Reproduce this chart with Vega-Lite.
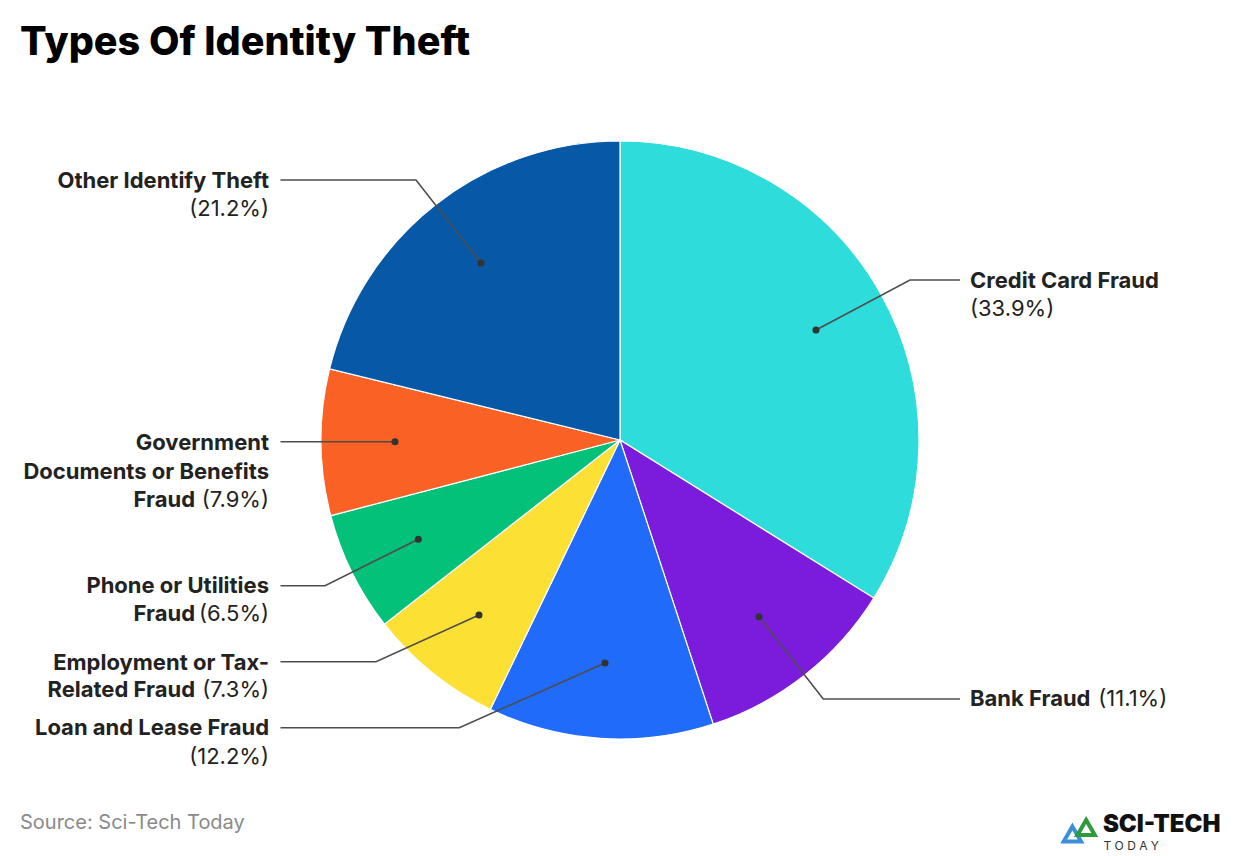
{
  "$schema": "https://vega.github.io/schema/vega-lite/v6.json",
  "width": 1240,
  "height": 856,
  "padding": 0,
  "autosize": {"type": "none"},
  "background": "white",
  "config": {"view": {"stroke": null}, "font": "Inter"},
  "datasets": {
    "slices": [
      {"category": "Credit Card Fraud", "rank": 1, "share": 33.9},
      {"category": "Bank Fraud", "rank": 2, "share": 11.1},
      {"category": "Loan and Lease Fraud", "rank": 3, "share": 12.2},
      {"category": "Employment or Tax-Related Fraud", "rank": 4, "share": 7.3},
      {"category": "Phone or Utilities Fraud", "rank": 5, "share": 6.5},
      {"category": "Government Documents or Benefits Fraud", "rank": 6, "share": 7.9},
      {"category": "Other Identify Theft", "rank": 7, "share": 21.2}
    ],
    "leaders": [
      {"category": "Credit Card Fraud", "pt": 0, "x": 65.55, "y": 36.79},
      {"category": "Credit Card Fraud", "pt": 1, "x": 96.99, "y": 53.51},
      {"category": "Credit Card Fraud", "pt": 2, "x": 113.71, "y": 53.51},
      {"category": "Bank Fraud", "pt": 0, "x": 46.49, "y": -59.10},
      {"category": "Bank Fraud", "pt": 1, "x": 67.99, "y": -86.62},
      {"category": "Bank Fraud", "pt": 2, "x": 113.71, "y": -86.62},
      {"category": "Loan and Lease Fraud", "pt": 0, "x": -5.02, "y": -74.58},
      {"category": "Loan and Lease Fraud", "pt": 1, "x": -53.75, "y": -96.22},
      {"category": "Loan and Lease Fraud", "pt": 2, "x": -113.55, "y": -96.22},
      {"category": "Employment or Tax-Related Fraud", "pt": 0, "x": -47.16, "y": -58.53},
      {"category": "Employment or Tax-Related Fraud", "pt": 1, "x": -81.61, "y": -74.15},
      {"category": "Employment or Tax-Related Fraud", "pt": 2, "x": -113.55, "y": -74.15},
      {"category": "Phone or Utilities Fraud", "pt": 0, "x": -67.46, "y": -33.21},
      {"category": "Phone or Utilities Fraud", "pt": 1, "x": -98.66, "y": -48.73},
      {"category": "Phone or Utilities Fraud", "pt": 2, "x": -113.55, "y": -48.73},
      {"category": "Government Documents or Benefits Fraud", "pt": 0, "x": -75.25, "y": -0.57},
      {"category": "Government Documents or Benefits Fraud", "pt": 2, "x": -113.55, "y": -0.57},
      {"category": "Other Identify Theft", "pt": 0, "x": -46.49, "y": 59.20},
      {"category": "Other Identify Theft", "pt": 1, "x": -68.23, "y": 86.96},
      {"category": "Other Identify Theft", "pt": 2, "x": -113.55, "y": 86.96}
    ],
    "labels": [
      {"side": "L", "part": "name", "text": "Other Identify Theft", "x": -117.39, "y": 86.72},
      {"side": "L", "part": "pct", "text": "(21.2%)", "x": -117.39, "y": 77.26},
      {"side": "L", "part": "name", "text": "Government", "x": -117.39, "y": -1.10},
      {"side": "L", "part": "name", "text": "Documents or Benefits", "x": -117.39, "y": -10.60},
      {"side": "L", "part": "name", "text": "Fraud", "x": -142.14, "y": -20.07},
      {"side": "L", "part": "pct", "text": "(7.9%)", "x": -117.39, "y": -20.07},
      {"side": "L", "part": "name", "text": "Phone or Utilities", "x": -117.39, "y": -48.73},
      {"side": "L", "part": "name", "text": "Fraud", "x": -142.14, "y": -58.29},
      {"side": "L", "part": "pct", "text": "(6.5%)", "x": -117.39, "y": -58.29},
      {"side": "L", "part": "name", "text": "Employment or Tax-", "x": -117.39, "y": -74.48},
      {"side": "L", "part": "name", "text": "Related Fraud", "x": -142.14, "y": -83.61},
      {"side": "L", "part": "pct", "text": "(7.3%)", "x": -117.39, "y": -83.61},
      {"side": "L", "part": "name", "text": "Loan and Lease Fraud", "x": -117.39, "y": -96.39},
      {"side": "L", "part": "pct", "text": "(12.2%)", "x": -117.39, "y": -105.92},
      {"side": "R", "part": "name", "text": "Credit Card Fraud", "x": 117.06, "y": 53.31},
      {"side": "R", "part": "pct", "text": "(33.9%)", "x": 117.06, "y": 43.81},
      {"side": "R", "part": "name", "text": "Bank Fraud", "x": 117.06, "y": -86.62},
      {"side": "R", "part": "pct", "text": "(11.1%)", "x": 159.97, "y": -86.62}
    ],
    "notes": [
      {"kind": "title", "text": "Types Of Identity Theft", "x": -200.67, "y": 128.76},
      {"kind": "source", "text": "Source: Sci-Tech Today", "x": -200.67, "y": -130.1},
      {"kind": "logo", "text": "SCI-TECH", "x": 161.5, "y": -131.2},
      {"kind": "logosub", "text": "T O D A Y", "x": 161.7, "y": -137.0}
    ],
    "logomarks": [
      {"part": "blue", "x": 151.3, "y": -131.8},
      {"part": "green", "x": 155.9, "y": -129.6}
    ]
  },
  "layer": [
    {
      "data": {"name": "slices"},
      "mark": {"type": "arc", "outerRadius": 299, "stroke": "white", "strokeWidth": 1.2},
      "encoding": {
        "x": {"datum": 0, "type": "quantitative"},
        "y": {"datum": 0, "type": "quantitative"},
        "theta": {"field": "share", "type": "quantitative", "stack": true},
        "order": {"field": "rank", "type": "quantitative", "sort": "ascending"},
        "color": {
          "field": "category",
          "type": "nominal",
          "scale": {
            "domain": ["Credit Card Fraud", "Bank Fraud", "Loan and Lease Fraud", "Employment or Tax-Related Fraud", "Phone or Utilities Fraud", "Government Documents or Benefits Fraud", "Other Identify Theft"],
            "range": ["#2EDCDC", "#7B1BDB", "#216BFA", "#FDE034", "#03C178", "#F96125", "#0759A7"]
          },
          "legend": null
        }
      }
    },
    {
      "data": {"name": "leaders"},
      "mark": {"type": "line", "color": "#4d4d4d", "strokeWidth": 1.6},
      "encoding": {
        "x": {"field": "x", "type": "quantitative"},
        "y": {"field": "y", "type": "quantitative"},
        "detail": {"field": "category"},
        "order": {"field": "pt", "type": "quantitative"}
      }
    },
    {
      "data": {"name": "leaders"},
      "transform": [{"filter": "datum.pt == 0"}],
      "mark": {"type": "circle", "color": "#333333", "opacity": 1, "size": 50},
      "encoding": {
        "x": {"field": "x", "type": "quantitative"},
        "y": {"field": "y", "type": "quantitative"}
      }
    },
    {
      "data": {"name": "labels"},
      "transform": [{"filter": "datum.side == 'L' && datum.part == 'name'"}],
      "mark": {"type": "text", "align": "right", "baseline": "middle", "fontSize": 22, "fontWeight": "bold", "color": "#222222"},
      "encoding": {
        "x": {"field": "x", "type": "quantitative"},
        "y": {"field": "y", "type": "quantitative"},
        "text": {"field": "text"}
      }
    },
    {
      "data": {"name": "labels"},
      "transform": [{"filter": "datum.side == 'L' && datum.part == 'pct'"}],
      "mark": {"type": "text", "align": "right", "baseline": "middle", "fontSize": 22, "fontWeight": "normal", "color": "#222222"},
      "encoding": {
        "x": {"field": "x", "type": "quantitative"},
        "y": {"field": "y", "type": "quantitative"},
        "text": {"field": "text"}
      }
    },
    {
      "data": {"name": "labels"},
      "transform": [{"filter": "datum.side == 'R' && datum.part == 'name'"}],
      "mark": {"type": "text", "align": "left", "baseline": "middle", "fontSize": 22, "fontWeight": "bold", "color": "#222222"},
      "encoding": {
        "x": {"field": "x", "type": "quantitative"},
        "y": {"field": "y", "type": "quantitative"},
        "text": {"field": "text"}
      }
    },
    {
      "data": {"name": "labels"},
      "transform": [{"filter": "datum.side == 'R' && datum.part == 'pct'"}],
      "mark": {"type": "text", "align": "left", "baseline": "middle", "fontSize": 22, "fontWeight": "normal", "color": "#222222"},
      "encoding": {
        "x": {"field": "x", "type": "quantitative"},
        "y": {"field": "y", "type": "quantitative"},
        "text": {"field": "text"}
      }
    },
    {
      "data": {"name": "notes"},
      "transform": [{"filter": "datum.kind == 'title'"}],
      "mark": {"type": "text", "align": "left", "baseline": "alphabetic", "fontSize": 39.5, "fontWeight": 800, "color": "#000000"},
      "encoding": {
        "x": {"field": "x", "type": "quantitative"},
        "y": {"field": "y", "type": "quantitative"},
        "text": {"field": "text"}
      }
    },
    {
      "data": {"name": "notes"},
      "transform": [{"filter": "datum.kind == 'source'"}],
      "mark": {"type": "text", "align": "left", "baseline": "alphabetic", "fontSize": 20, "color": "#8a8a8a"},
      "encoding": {
        "x": {"field": "x", "type": "quantitative"},
        "y": {"field": "y", "type": "quantitative"},
        "text": {"field": "text"}
      }
    },
    {
      "data": {"name": "notes"},
      "transform": [{"filter": "datum.kind == 'logo'"}],
      "mark": {"type": "text", "align": "left", "baseline": "alphabetic", "fontSize": 24, "fontWeight": 900, "color": "#111111"},
      "encoding": {
        "x": {"field": "x", "type": "quantitative"},
        "y": {"field": "y", "type": "quantitative"},
        "text": {"field": "text"}
      }
    },
    {
      "data": {"name": "notes"},
      "transform": [{"filter": "datum.kind == 'logosub'"}],
      "mark": {"type": "text", "align": "left", "baseline": "alphabetic", "fontSize": 12, "color": "#333333"},
      "encoding": {
        "x": {"field": "x", "type": "quantitative"},
        "y": {"field": "y", "type": "quantitative"},
        "text": {"field": "text"}
      }
    },
    {
      "data": {"name": "logomarks"},
      "mark": {"type": "point", "shape": "triangle-up", "filled": false, "strokeWidth": 4, "size": 300, "opacity": 1},
      "encoding": {
        "x": {"field": "x", "type": "quantitative"},
        "y": {"field": "y", "type": "quantitative"},
        "stroke": {
          "field": "part",
          "type": "nominal",
          "scale": {"domain": ["blue", "green"], "range": ["#3a8fd8", "#2e9a3c"]},
          "legend": null
        }
      }
    }
  ],
  "resolve": {"scale": {"color": "independent"}},
  "encoding": {
    "x": {"type": "quantitative", "scale": {"domain": [-207.36, 207.36], "zero": false, "nice": false}, "axis": null},
    "y": {"type": "quantitative", "scale": {"domain": [-139.13, 147.16], "zero": false, "nice": false}, "axis": null}
  }
}
